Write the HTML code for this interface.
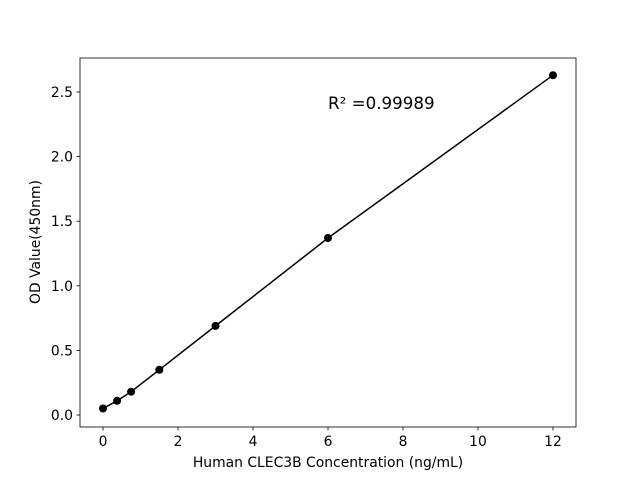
<!DOCTYPE html>
<html><head><style>body{margin:0;background:#fff}svg{display:block}text{font-family:"DejaVu Sans","Liberation Sans",sans-serif;fill:#000}</style></head>
<body>
<svg width="640" height="480" viewBox="0 0 640 480">
<rect x="80" y="58" width="496" height="369" fill="none" stroke="#000" stroke-width="0.8"/>
<g stroke="#000" stroke-width="0.8">
<line x1="103" y1="427" x2="103" y2="430.5"/><line x1="178" y1="427" x2="178" y2="430.5"/><line x1="253" y1="427" x2="253" y2="430.5"/><line x1="328" y1="427" x2="328" y2="430.5"/><line x1="403" y1="427" x2="403" y2="430.5"/><line x1="478" y1="427" x2="478" y2="430.5"/><line x1="553" y1="427" x2="553" y2="430.5"/>
<line x1="76.5" y1="415" x2="80" y2="415"/><line x1="76.5" y1="350.4" x2="80" y2="350.4"/><line x1="76.5" y1="285.8" x2="80" y2="285.8"/><line x1="76.5" y1="221.2" x2="80" y2="221.2"/><line x1="76.5" y1="156.6" x2="80" y2="156.6"/><line x1="76.5" y1="92" x2="80" y2="92"/>
</g>
<g font-size="13.9" text-anchor="middle">
<text x="103" y="446">0</text><text x="178" y="446">2</text><text x="253" y="446">4</text><text x="328" y="446">6</text><text x="403" y="446">8</text><text x="478" y="446">10</text><text x="553" y="446">12</text>
</g>
<g font-size="13.9" text-anchor="end">
<text x="73" y="420">0.0</text><text x="73" y="355.4">0.5</text><text x="73" y="290.8">1.0</text><text x="73" y="226.2">1.5</text><text x="73" y="161.6">2.0</text><text x="73" y="97">2.5</text>
</g>
<text x="328" y="467" font-size="13.9" text-anchor="middle">Human CLEC3B Concentration (ng/mL)</text>
<text x="40" y="242" font-size="13.9" text-anchor="middle" transform="rotate(-90 40 242)">OD Value(450nm)</text>
<text x="328" y="109" font-size="16.7">R² =0.99989</text>
<polyline fill="none" stroke="#000" stroke-width="1.5" points="103,408.5 117.1,400.8 131.1,391.7 159.3,369.8 215.5,325.9 328,238 553,75.2"/>
<g fill="#000">
<circle cx="103" cy="408.5" r="4"/><circle cx="117.1" cy="400.8" r="4"/><circle cx="131.1" cy="391.7" r="4"/><circle cx="159.3" cy="369.8" r="4"/><circle cx="215.5" cy="325.9" r="4"/><circle cx="328" cy="238" r="4"/><circle cx="553" cy="75.2" r="4"/>
</g>
</svg>
</body></html>
